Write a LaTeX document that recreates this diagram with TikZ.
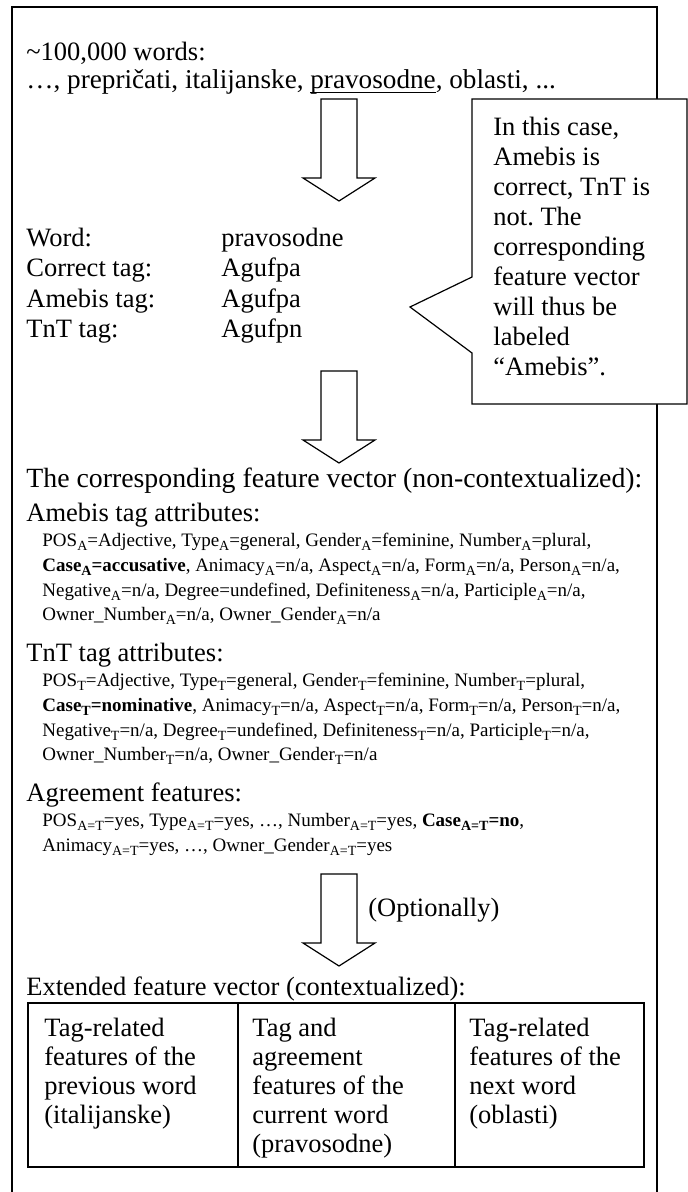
\documentclass[tikz,border=0pt]{standalone}
\usepackage{fontspec}
\setmainfont{Liberation Serif}
\frenchspacing
\newcommand{\tagsub}[1]{\raisebox{-0.5ex}{\fontsize{7}{8}\selectfont #1}}
\newcommand{\wordline}[1]{\setbox0\hbox{#1}\rlap{\rule[-1.8pt]{\wd0}{0.5pt}}\box0}

\begin{document}
\begin{tikzpicture}[x=0.5pt,y=-0.5pt,
    txt/.style={anchor=base west,inner sep=0pt,font=\fontsize{13.25}{15}\selectfont},
    big/.style={txt,font=\fontsize{13.9}{15}\selectfont},
    small/.style={anchor=base west,inner sep=0pt,font=\fontsize{9.5}{12}\selectfont},
    cell/.style={anchor=north west,inner sep=0pt,align=left,font=\fontsize{13.25}{14.5}\selectfont},
    hollow/.style={draw,line width=0.6pt,fill=white,line join=miter}]
\useasboundingbox (0,0) rectangle (688,1192);

% outer frame (open at the bottom)
\draw[line width=0.9pt] (12,1192) -- (12,7) -- (657,7) -- (657,1192);

\node[txt] (count) at (26,61) {\textasciitilde 100,000 words:};
\node[txt,font=\fontsize{13.6}{15}\selectfont] (corpus) at (26,89) {…, prepričati, italijanske, \wordline{pravosodne}, oblasti, ...};

% block arrows
\draw[hollow] (321,99) -- (357,99) -- (357,178) -- (375,178) -- (339,201) -- (303,178) -- (321,178) -- cycle;
\draw[hollow] (321,371) -- (357,371) -- (357,440) -- (375,440) -- (339,463) -- (303,440) -- (321,440) -- cycle;
\draw[hollow] (321,874) -- (357,874) -- (357,943) -- (375,943) -- (339,966) -- (303,943) -- (321,943) -- cycle;

% callout
\draw[hollow] (472,99) -- (687,99) -- (687,404) -- (472,404) -- (472,353) -- (410,307) -- (472,277) -- cycle;
\node[cell,font=\fontsize{13.25}{15}\selectfont] (note) at (493,117) {In this case,\\Amebis is\\correct, TnT is\\not. The\\corresponding\\feature vector\\will thus be\\labeled\\“Amebis”.};

\node[txt] (wordlbl) at (26,247) {Word:};
\node[txt] (wordval) at (221,247) {pravosodne};
\node[txt] (corrlbl) at (26,277) {Correct tag:};
\node[txt] (corrval) at (221,277) {Agufpa};
\node[txt] (amelbl) at (26,307) {Amebis tag:};
\node[txt] (ameval) at (221,307) {Agufpa};
\node[txt] (tntlbl) at (26,337) {TnT tag:};
\node[txt] (tntval) at (221,337) {Agufpn};

\node[big] (vector) at (26,487) {The corresponding feature vector (non-contextualized):};
\node[txt] (amehead) at (26,521) {Amebis tag attributes:};
\node[small] (ame1) at (42,546) {POS\tagsub{A}=Adjective, Type\tagsub{A}=general, Gender\tagsub{A}=feminine, Number\tagsub{A}=plural,};
\node[small] (ame2) at (42,571) {\textbf{Case\tagsub{A}=accusative}, Animacy\tagsub{A}=n/a, Aspect\tagsub{A}=n/a, Form\tagsub{A}=n/a, Person\tagsub{A}=n/a,};
\node[small] (ame3) at (42,596) {Negative\tagsub{A}=n/a, Degree=undefined, Definiteness\tagsub{A}=n/a, Participle\tagsub{A}=n/a,};
\node[small] (ame4) at (42,620) {Owner\_Number\tagsub{A}=n/a, Owner\_Gender\tagsub{A}=n/a};

\node[txt] (tnthead) at (26,661) {TnT tag attributes:};
\node[small] (tnt1) at (42,686) {POS\tagsub{T}=Adjective, Type\tagsub{T}=general, Gender\tagsub{T}=feminine, Number\tagsub{T}=plural,};
\node[small] (tnt2) at (42,711) {\textbf{Case\tagsub{T}=nominative}, Animacy\tagsub{T}=n/a, Aspect\tagsub{T}=n/a, Form\tagsub{T}=n/a, Person\tagsub{T}=n/a,};
\node[small] (tnt3) at (42,736) {Negative\tagsub{T}=n/a, Degree\tagsub{T}=undefined, Definiteness\tagsub{T}=n/a, Participle\tagsub{T}=n/a,};
\node[small] (tnt4) at (42,760) {Owner\_Number\tagsub{T}=n/a, Owner\_Gender\tagsub{T}=n/a};

\node[txt] (agrhead) at (26,801) {Agreement features:};
\node[small] (agr1) at (42,826) {POS\tagsub{A=T}=yes, Type\tagsub{A=T}=yes, …, Number\tagsub{A=T}=yes, \textbf{Case\tagsub{A=T}=no},};
\node[small] (agr2) at (42,851) {Animacy\tagsub{A=T}=yes, …, Owner\_Gender\tagsub{A=T}=yes};

\node[txt] (optional) at (368,916) {(Optionally)};

\node[txt] (extended) at (26,995) {Extended feature vector (contextualized):};
\draw[line width=0.9pt] (28,1003) rectangle (644,1167);
\draw[line width=0.6pt] (238,1003) -- (238,1167) (455,1003) -- (455,1167);
\node[cell] (prevcell) at (44,1018) {Tag-related\\features of the\\previous word\\(italijanske)};
\node[cell] (curcell) at (252,1018) {Tag and\\agreement\\features of the\\current word\\(pravosodne)};
\node[cell] (nextcell) at (469,1018) {Tag-related\\features of the\\next word\\(oblasti)};
\end{tikzpicture}
\end{document}
